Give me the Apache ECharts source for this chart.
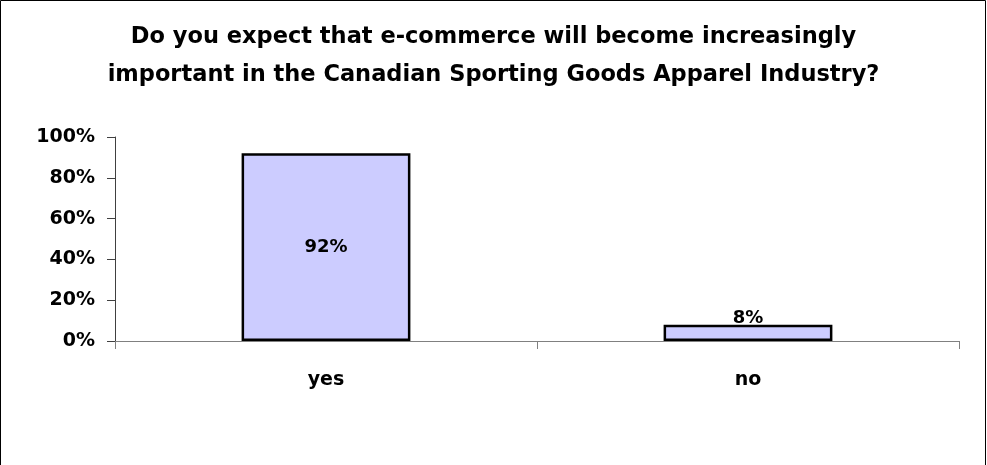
<!DOCTYPE html>
<html>
<head>
<meta charset="utf-8">
<script src="https://cdn.jsdelivr.net/npm/echarts@6/dist/echarts.min.js"></script>
<style>
  html, body { margin: 0; padding: 0; background: #fff; }
  #chart { width: 987px; height: 465px; }
</style>
</head>
<body>
<div id="chart"></div>
<script>
// Survey answers and share of respondents (percent)
const categories = ['yes', 'no'];
const shares = [92, 8];
const titleLines = [
  'Do you expect that e-commerce will become increasingly',
  'important in the Canadian Sporting Goods Apparel Industry?'
];

const chart = echarts.init(document.getElementById('chart'));
const font = '"DejaVu Sans", Arial, sans-serif';

chart.setOption({
  animation: false,
  backgroundColor: '#ffffff',
  graphic: [{
    type: 'rect',
    shape: { x: 0.5, y: 0.5, width: 985, height: 470 },
    style: { fill: 'none', stroke: '#000', lineWidth: 1 },
    silent: true
  }],
  title: {
    text: titleLines.join('\n'),
    left: 'center',
    top: 13,
    textStyle: {
      fontFamily: font,
      fontSize: 22.5,
      fontWeight: 'bold',
      color: '#000',
      lineHeight: 38
    }
  },
  grid: { left: 115, right: 28, top: 137, bottom: 124 },
  xAxis: {
    type: 'category',
    data: categories,
    axisLine: { lineStyle: { color: '#808080', width: 1 } },
    axisTick: { show: true, length: 8, lineStyle: { color: '#808080' } },
    axisLabel: {
      margin: 30,
      fontFamily: font,
      fontSize: 19,
      fontWeight: 'bold',
      color: '#000'
    }
  },
  yAxis: {
    type: 'value',
    min: 0,
    max: 100,
    interval: 20,
    splitLine: { show: false },
    axisLine: { show: true, lineStyle: { color: '#404040', width: 1 } },
    axisTick: { show: true, length: 8, lineStyle: { color: '#404040' } },
    axisLabel: {
      margin: 20,
      formatter: '{value}%',
      fontFamily: font,
      fontSize: 19,
      fontWeight: 'bold',
      color: '#000',
      padding: [3, 0, 0, 0]
    }
  },
  series: [{
    type: 'bar',
    data: shares.map((v, i) => ({
      value: v,
      label: { position: i === 0 ? 'inside' : 'top', distance: -3 }
    })),
    barWidth: '40%',
    itemStyle: { color: '#ccccff', borderColor: '#000', borderWidth: 2.5 },
    label: {
      show: true,
      formatter: '{c}%',
      fontFamily: font,
      fontSize: 18,
      fontWeight: 'bold',
      color: '#000'
    }
  }]
});
</script>
</body>
</html>
